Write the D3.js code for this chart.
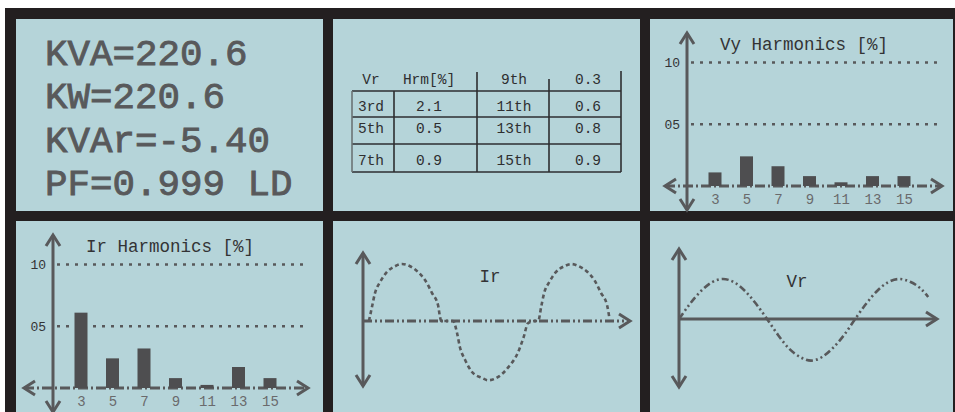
<!DOCTYPE html>
<html lang="en">
<head>
<meta charset="UTF-8">
<title>Power Meter Display</title>
<script src="https://d3js.org/d3.v7.min.js"></script>
<style>
  body { margin: 0; background: #fff; }
  svg { display: block; }
  text { font-family: "Liberation Mono", "DejaVu Sans Mono", monospace; }
</style>
</head>
<body>
<div id="chart"></div>
<script>
// readings shown on the meter
const powerLines = ["KVA=220.6", "KW=220.6", "KVAr=-5.40", "PF=0.999 LD"];

const tableHeader = ["Vr", "Hrm[%]", "9th", "0.3"];
const tableRows = [
    ["3rd", "2.1", "11th", "0.6"],
    ["5th", "0.5", "13th", "0.8"],
    ["7th", "0.9", "15th", "0.9"]
];

const harmonicOrders = [3, 5, 7, 9, 11, 13, 15];
const vyHarmonics = [1.1, 2.4, 1.6, 0.8, 0.3, 0.8, 0.8];
const irHarmonics = [6.1, 2.4, 3.2, 0.8, 0.25, 1.7, 0.8];
const gridTicks = [5, 10];

// Ir waveform (time in ms, value relative to peak)
const irTime = [0.7, 1.06, 1.41, 2.0, 2.82, 3.76, 4.59, 5.53, 6.47, 7.29, 8.12, 8.82, 9.06, 9.2, 10.6,
    11.06, 11.4, 12.0, 12.8, 14.0, 14.7, 15.9, 17.1, 18.2, 18.9, 19.4, 20.2,
    20.6, 20.96, 21.3, 21.9, 22.7, 23.66, 24.5, 25.4, 26.4, 27.2, 28.0, 28.7, 28.96];
const irValue = [0, 0.25, 0.49, 0.68, 0.86, 0.96, 1.0, 0.96, 0.86, 0.72, 0.49, 0.28, 0.07, 0, 0,
    -0.21, -0.46, -0.68, -0.89, -1.0, -1.04, -0.98, -0.81, -0.56, -0.28, -0.04, 0,
    0, 0.25, 0.49, 0.68, 0.86, 0.96, 1.0, 0.96, 0.86, 0.72, 0.49, 0.28, 0.07];

// Vr waveform
const vrTime = [0, 1.25, 2.5, 3.75, 5, 6.25, 7.5, 8.75, 10, 11.25, 12.5, 13.75, 15, 16.25, 17.5, 18.75,
    20, 21.25, 22.5, 23.75, 25, 26.25, 27.5, 28.3];
const vrValue = [0, 0.38, 0.7, 0.92, 1.0, 0.92, 0.7, 0.38, 0, -0.4, -0.74, -0.95, -1.04, -0.95, -0.72, -0.4,
    0, 0.38, 0.7, 0.92, 1.0, 0.93, 0.75, 0.55];

const ink = "#58595b";
const barInk = "#4e4e50";
const textInk = "#333335";
const lcd = "#b5d4d9";

const width = 955, height = 412;

const svg = d3.select("#chart").append("svg")
    .attr("width", width)
    .attr("height", height);

svg.append("rect").attr("width", width).attr("height", height).attr("fill", "#fff");
svg.append("rect")
    .attr("x", 5).attr("y", 8)
    .attr("width", width - 5).attr("height", height - 8)
    .attr("fill", "#231f20");

const panels = [
    { x: 16, y: 19, w: 307, h: 192 },
    { x: 333, y: 19, w: 307, h: 192 },
    { x: 650, y: 19, w: 303, h: 192 },
    { x: 16, y: 221, w: 307, h: 192 },
    { x: 333, y: 221, w: 307, h: 192 },
    { x: 650, y: 221, w: 303, h: 192 }
];

const cells = panels.map(p => {
    const g = svg.append("g").attr("transform", `translate(${p.x},${p.y})`);
    g.append("rect").attr("width", p.w).attr("height", p.h).attr("fill", lcd);
    return g;
});

function arrow(g, x, y, dir) {
    const s = 11, w = 7;
    let pts;
    if (dir === "up") pts = [[x - w, y + s], [x, y], [x + w, y + s]];
    if (dir === "down") pts = [[x - w, y - s], [x, y], [x + w, y - s]];
    if (dir === "left") pts = [[x + s, y - w], [x, y], [x + s, y + w]];
    if (dir === "right") pts = [[x - s, y - w], [x, y], [x - s, y + w]];
    g.append("path")
        .attr("d", d3.line()(pts))
        .attr("fill", "none")
        .attr("stroke", ink)
        .attr("stroke-width", 3);
}

function hLine(g, x1, x2, y, dash, sw) {
    g.append("line")
        .attr("x1", x1).attr("x2", x2).attr("y1", y).attr("y2", y)
        .attr("stroke", ink).attr("stroke-width", sw || 3)
        .attr("stroke-dasharray", dash || null);
}

function vAxis(g, x, top, bottom) {
    g.append("line")
        .attr("x1", x).attr("x2", x).attr("y1", top).attr("y2", bottom)
        .attr("stroke", ink).attr("stroke-width", 3);
    arrow(g, x, top, "up");
    arrow(g, x, bottom, "down");
}

// panel 1: power readings
cells[0].selectAll("text.reading")
    .data(powerLines)
    .join("text")
    .attr("class", "reading")
    .attr("x", 29)
    .attr("y", (d, i) => 46 + i * 43.4)
    .attr("font-size", 37.5)
    .attr("fill", ink)
    .attr("stroke", ink)
    .attr("stroke-width", 0.9)
    .text(d => d);

// panel 2: harmonic table
const tg = cells[1];
const colX = [19, 61, 144, 216, 288];
const rowY = [72, 98, 125, 153];
const colMid = [38, 96, 181, 255];
const textY = [60.5, 88, 110, 142];
const tableInk = "#2e2e30";

rowY.forEach(y => {
    tg.append("line").attr("x1", colX[0]).attr("x2", colX[4]).attr("y1", y).attr("y2", y)
        .attr("stroke", tableInk).attr("stroke-width", 1.6);
});
colX.forEach((x, i) => {
    tg.append("line").attr("x1", x).attr("x2", x)
        .attr("y1", i === 4 ? 52 : rowY[0]).attr("y2", rowY[3])
        .attr("stroke", i === 0 ? "#6b7375" : tableInk).attr("stroke-width", 1.6);
});
tg.append("line").attr("x1", colX[2]).attr("x2", colX[2]).attr("y1", 53).attr("y2", rowY[0])
    .attr("stroke", tableInk).attr("stroke-width", 1.6);
tg.append("line").attr("x1", colX[3]).attr("x2", colX[3]).attr("y1", 60).attr("y2", rowY[0])
    .attr("stroke", tableInk).attr("stroke-width", 1.6);

[tableHeader, ...tableRows].forEach((row, r) => {
    tg.selectAll(null)
        .data(row)
        .join("text")
        .attr("x", (d, c) => colMid[c])
        .attr("y", textY[r])
        .attr("text-anchor", "middle")
        .attr("dominant-baseline", "central")
        .attr("font-size", 14.5)
        .attr("fill", tableInk)
        .text(d => d);
});

// harmonic bar charts
function drawHarmonics(g, title, values, leftTip) {
    const x = d3.scaleLinear().domain([3, 15]).range([65, 254]);
    const y = d3.scaleLinear().domain([0, 10]).range([167, 43.5]);

    gridTicks.forEach(t => hLine(g, 41, 292, y(t), "3,6", 2.6));

    const ya = g.append("g")
        .attr("transform", "translate(37,0)")
        .call(d3.axisLeft(y).tickValues(gridTicks).tickSize(0).tickPadding(7).tickFormat(d3.format("02d")));
    ya.select(".domain").remove();
    ya.selectAll("text").attr("font-family", null).attr("font-size", 13).attr("fill", textInk);

    hLine(g, leftTip, 291, y(0), "10,3,2,3", 3);
    arrow(g, leftTip, y(0), "left");
    arrow(g, 292, y(0), "right");
    vAxis(g, 37, 14, 191);

    g.selectAll("rect.bar")
        .data(values)
        .join("rect")
        .attr("class", "bar")
        .attr("x", (d, i) => x(harmonicOrders[i]) - 6.5)
        .attr("y", d => y(d))
        .attr("width", 13)
        .attr("height", d => y(0) - y(d))
        .attr("fill", barInk);

    const xa = g.append("g")
        .attr("transform", `translate(0,${y(0)})`)
        .call(d3.axisBottom(x).tickValues(harmonicOrders).tickSize(0).tickPadding(8));
    xa.select(".domain").remove();
    xa.selectAll("text").attr("font-family", null).attr("font-size", 14).attr("fill", "#6a6a6c");

    g.append("text")
        .attr("x", 154).attr("y", 31)
        .attr("text-anchor", "middle")
        .attr("font-size", 17.5)
        .attr("fill", textInk)
        .text(title);
}

drawHarmonics(cells[2], "Vy Harmonics [%]", vyHarmonics, 15);
drawHarmonics(cells[3], "Ir Harmonics [%]", irHarmonics, 8);

// waveforms
function drawWave(g, o) {
    const x = d3.scaleLinear().domain([0, o.span]).range([o.x0, o.x1]);
    const y = d3.scaleLinear().domain([-1, 1]).range([o.y0 + o.amp, o.y0 - o.amp]);

    hLine(g, o.x0, o.tip - 1, y(0), o.axisDash, 3);
    arrow(g, o.tip, y(0), "right");
    vAxis(g, o.x0, o.top, o.bottom);

    const pts = o.time.map((t, i) => [t, o.value[i]]);
    g.append("path")
        .datum(pts)
        .attr("d", d3.line().x(d => x(d[0])).y(d => y(d[1])).curve(d3.curveMonotoneX))
        .attr("fill", "none")
        .attr("stroke", ink)
        .attr("stroke-width", 2.6)
        .attr("stroke-dasharray", o.waveDash);

    g.append("text")
        .attr("x", o.labelX).attr("y", o.labelY)
        .attr("text-anchor", "middle")
        .attr("font-size", 17.5)
        .attr("fill", textInk)
        .text(o.label);
}

drawWave(cells[4], {
    time: irTime, value: irValue, span: 31.4,
    x0: 30, x1: 297, tip: 297, y0: 100, amp: 57, top: 32, bottom: 165,
    axisDash: "9,3,2,3,2,3", waveDash: "4,3",
    label: "Ir", labelX: 157, labelY: 61
});

drawWave(cells[5], {
    time: vrTime, value: vrValue, span: 29.3,
    x0: 29, x1: 287, tip: 287, y0: 98, amp: 40, top: 28, bottom: 166,
    axisDash: null, waveDash: "7,3,2,3,2,3",
    label: "Vr", labelX: 147, labelY: 66
});
</script>
</body>
</html>
